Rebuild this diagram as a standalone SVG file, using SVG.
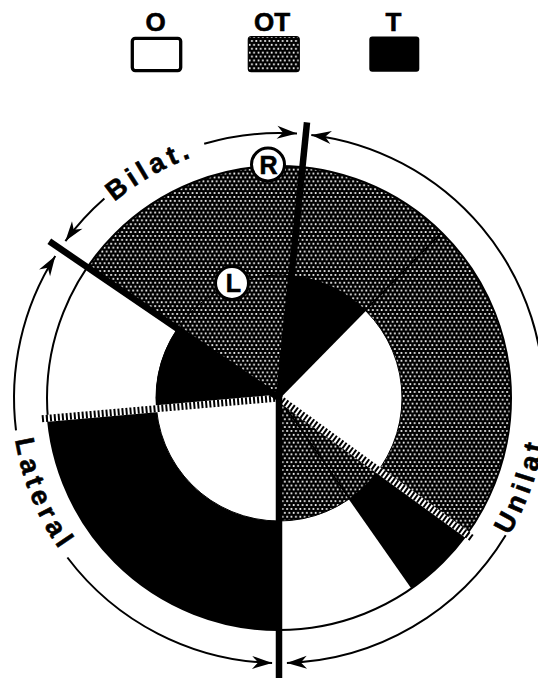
<svg xmlns="http://www.w3.org/2000/svg" width="538" height="678" viewBox="0 0 538 678">
<defs>
<pattern id="dots" patternUnits="userSpaceOnUse" width="4.4" height="7.8">
<rect width="4.4" height="7.8" fill="#000"/>
<circle cx="1.1" cy="1.95" r="1.05" fill="#fff"/>
<circle cx="3.3" cy="5.85" r="1.05" fill="#fff"/>
</pattern>
<marker id="arr" markerUnits="userSpaceOnUse" viewBox="-22 -8 24 16" refX="0" refY="0" markerWidth="24" markerHeight="16" orient="auto" overflow="visible">
<path d="M0 0 L-20 -6.5 L-14 0 L-20 6.5 Z" fill="#000"/>
</marker>
<path id="tpBilat" d="M 114.4 201.9 A 256 256 0 0 1 366.6 157.4"/>
<path id="tpUnilat" d="M 507.5 538 A 268 268 0 0 0 530.8 306.3"/>
<path id="tpLateral" d="M 15.3 439.8 A 267 267 0 0 0 187.7 648.9"/>
</defs>
<style>
.t{font-family:"Liberation Sans",Arial,sans-serif;font-weight:bold;fill:#000;stroke:#000;stroke-width:0.6}
.arc{fill:none;stroke:#000;stroke-width:2;marker-end:url(#arr)}
.blk{fill:#000}
.wht{fill:#fff}
.thick{stroke:#000;stroke-width:6.5;fill:none}
.thin{stroke:#000;stroke-width:1.8;fill:none}
.hbase{stroke:#fff;stroke-width:7;fill:none}
.hdash{stroke:#000;stroke-width:7;stroke-dasharray:2 2;fill:none}
</style>
<rect width="538" height="678" fill="#fff"/>

<g id="legend">
<g id="legend-O">
<text class="t" x="155.5" y="31" font-size="26" text-anchor="middle">O</text>
<rect x="132.3" y="38.3" width="48.4" height="32.3" rx="3" fill="#fff" stroke="#000" stroke-width="3.3"/>
</g>
<g id="legend-OT">
<text class="t" x="272" y="31" font-size="26" text-anchor="middle">OT</text>
<rect x="248.3" y="36.7" width="51" height="35" rx="3" fill="url(#dots)" stroke="#000" stroke-width="1.2"/>
</g>
<g id="legend-T">
<text class="t" x="393.5" y="31" font-size="26" text-anchor="middle">T</text>
<rect x="369.3" y="36.5" width="50" height="35.2" rx="3" fill="#000"/>
</g>
</g>

<g id="chart">
<circle cx="279" cy="398" r="232" fill="url(#dots)"/>
<path class="blk" d="M 466.69 534.37 A 232 232 0 0 1 412.07 588.04 L 349.55 498.76 A 123 123 0 0 0 378.51 470.30 Z"/>
<path class="wht" d="M 412.07 588.04 A 232 232 0 0 1 279 630 L 279 521 A 123 123 0 0 0 349.55 498.76 Z"/>
<path class="blk" d="M 279 630 A 232 232 0 0 1 47.88 418.22 L 156.47 408.72 A 123 123 0 0 0 279 521 Z"/>
<path class="wht" d="M 47.88 418.22 A 232 232 0 0 1 87.34 267.26 L 177.39 328.69 A 123 123 0 0 0 156.47 408.72 Z"/>
<path class="blk" d="M 279 398 L 291.43 275.63 A 123 123 0 0 1 365.21 310.27 Z"/>
<path class="wht" d="M 279 398 L 365.21 310.27 A 123 123 0 0 1 378.51 470.30 Z"/>
<path class="wht" d="M 279 398 L 279 521 A 123 123 0 0 1 156.47 408.72 Z"/>
<path class="blk" d="M 279 398 L 156.47 408.72 A 123 123 0 0 1 177.39 328.69 Z"/>
<circle cx="279" cy="398" r="232" fill="none" stroke="#000" stroke-width="2"/>
<circle cx="279" cy="398" r="123" fill="none" stroke="#000" stroke-width="1"/>
<path class="thin" d="M 279 398 L 441.61 232.53"/>
<path class="thin" d="M 279 398 L 412.07 588.04"/>
<path class="hbase" d="M 279 398 L 466.69 534.37"/>
<path class="hdash" d="M 279 398 L 472.36 538.48"/>
<path class="hbase" d="M 279 398 L 47.88 418.22"/>
<path class="hdash" d="M 279 398 L 40.91 418.83"/>
<path class="thick" d="M 279 398 L 307 122.4"/>
<path class="thick" d="M 279 398 L 49.3 241.3"/>
<path class="thick" d="M 279 398 L 279 680"/>
</g>

<g id="label-R">
<circle cx="268" cy="164.5" r="16.5" fill="#fff" stroke="#000" stroke-width="3"/>
<text class="t" x="268.5" y="173.5" font-size="25" text-anchor="middle">R</text>
</g>
<g id="label-L">
<circle cx="232" cy="283" r="16.5" fill="#fff" stroke="#000" stroke-width="3"/>
<text class="t" x="233.5" y="292" font-size="25" text-anchor="middle">L</text>
</g>

<g id="connectors">
<path class="arc" d="M 104.4 198.6 A 265 265 0 0 0 65.4 241.1"/>
<path class="arc" d="M 204.2 143.8 A 265 265 0 0 1 297 133.6"/>
<path class="arc" d="M 543.6 411.9 A 265 265 0 0 0 311.3 135"/>
<path class="arc" d="M 505.7 535.3 A 265 265 0 0 1 286.9 662.9"/>
<path class="arc" d="M 67.4 557.5 A 265 265 0 0 0 272.1 662.9"/>
<path class="arc" d="M 16 430.3 A 265 265 0 0 1 55.3 256"/>
</g>

<g id="sector-labels">
<text class="t" font-size="27" letter-spacing="4.5"><textPath href="#tpBilat">Bilat.</textPath></text>
<text class="t" font-size="27" letter-spacing="4.5"><textPath href="#tpUnilat" startOffset="3">Unilat</textPath></text>
<text class="t" font-size="27" letter-spacing="5"><textPath href="#tpLateral">Lateral</textPath></text>
</g>
</svg>
